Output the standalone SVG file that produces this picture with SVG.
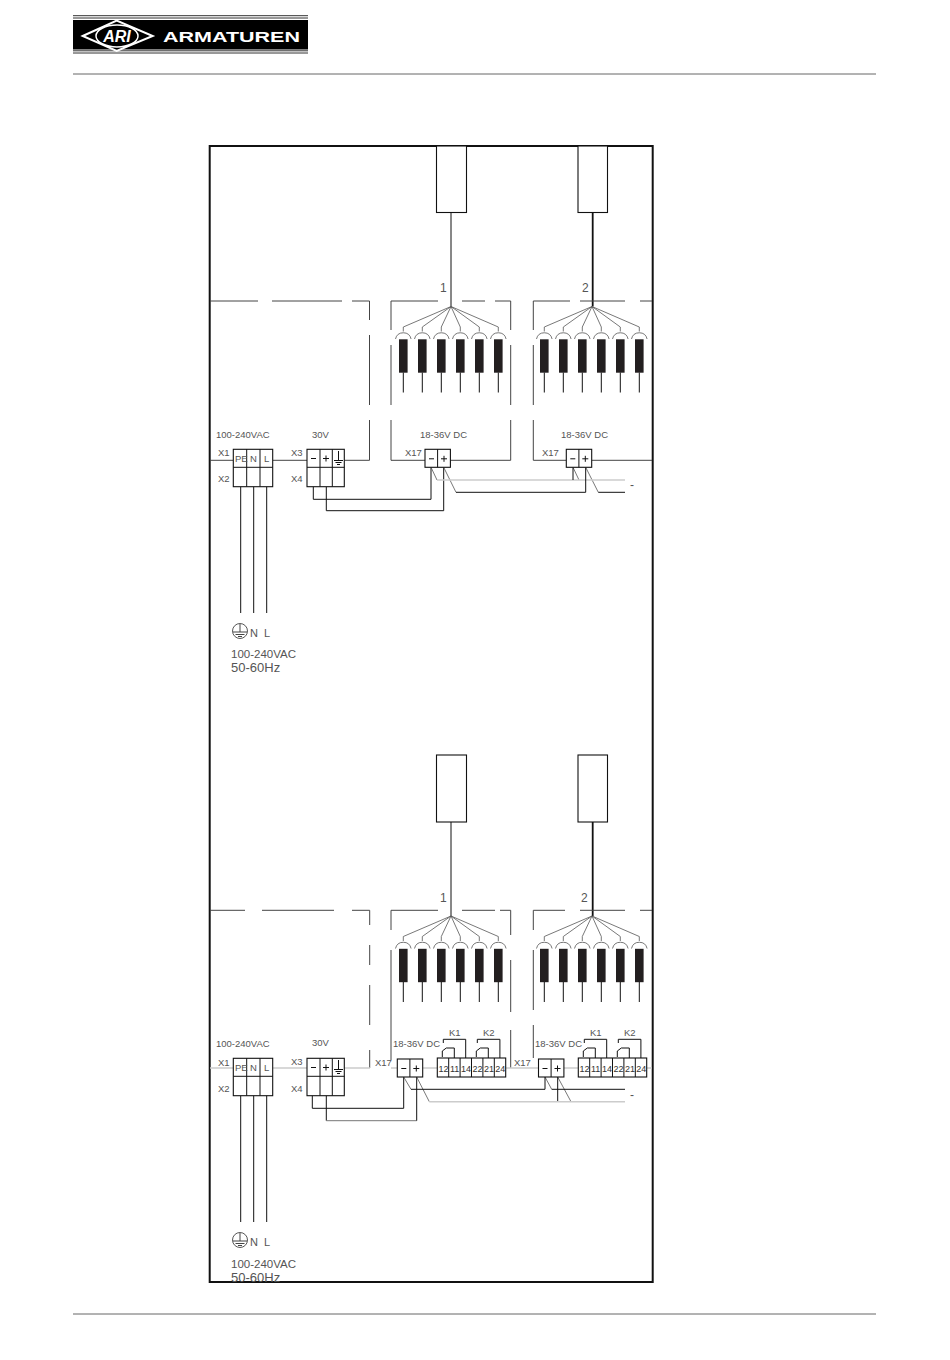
<svg xmlns="http://www.w3.org/2000/svg" xmlns:xlink="http://www.w3.org/1999/xlink" width="950" height="1360" viewBox="0 0 950 1360">
<style>
text{font-family:"Liberation Sans","DejaVu Sans",sans-serif;fill:#555;font-size:9.5px}
.b{font-size:12px}
.r{font-size:9px;fill:#333}
.w{fill:none;stroke:#111;stroke-width:1.1}
.t{fill:none;stroke:#555;stroke-width:.8}
.g{fill:none;stroke:#ccc;stroke-width:1.4}
.d{fill:none;stroke:#444;stroke-width:1}
.k{fill:none;stroke:#111;stroke-width:1}
.box{fill:#fff;stroke:#111;stroke-width:1.1}
</style>
<defs>
<g id="tube"><path class="t" d="M0 20.5V25M-7.8 32.5A8 8 0 0 1 7.8 32.5"/><rect x="-4.3" y="32.8" width="8.6" height="33.4" fill="#231f20"/><path class="k" d="M0 66V86"/></g>
<g id="fan">
<path class="t" d="M0 0L-47.7 20.5M0 0L-28.7 20.5M0 0L-9.7 20.5M0 0L9.3 20.5M0 0L28.3 20.5M0 0L47.3 20.5"/>
<use xlink:href="#tube" x="-47.7"/><use xlink:href="#tube" x="-28.7"/><use xlink:href="#tube" x="-9.7"/><use xlink:href="#tube" x="9.3"/><use xlink:href="#tube" x="28.3"/><use xlink:href="#tube" x="47.3"/>
</g>
<g id="mains">
<rect class="box" x="233.3" y="449.3" width="39.4" height="37.4"/>
<path class="k" d="M233.3 467.3H272.7M246.7 449.3V486.7M260 449.3V486.7"/>
<text x="235" y="462">PE</text><text x="250" y="462">N</text><text x="264" y="462" fill="#222">L</text>
</g>
<g id="psu">
<rect class="box" x="307" y="449.3" width="37.3" height="37.4"/>
<path class="k" d="M307 467.3H344.3M320 449.3V486.7M332.3 449.3V486.7"/>
<path class="k" d="M311 458.5H316M323 458.5H329M326 455.5V461.5M338.5 451V460M334 460.5H343M335.5 462.5H341.5M337 464.5H340"/>
</g>
<g id="dc">
<rect class="box" x="0" y="0" width="25.4" height="18"/>
<path class="k" d="M12.6 0V18M4 9.5H9M16 9.5H22M19 6.5V12.5"/>
</g>
<g id="relay">
<rect class="box" x="0" y="0" width="68.4" height="19"/>
<path class="k" d="M11.4 0V19M22.8 0V19M34.2 0V19M45.6 0V19M57 0V19"/>
<text class="r" x="1.2" y="14">12</text><text class="r" x="12.6" y="14">11</text><text class="r" x="23.8" y="14">14</text><text class="r" x="35.2" y="14">22</text><text class="r" x="46.6" y="14">21</text><text class="r" x="58" y="14">24</text>
<path class="k" d="M28.4 0V-18.7H6V-15M5 -1V-7M5 -7L9 -10H17V0M62.6 0V-18.7H40V-15M39 -1V-7M39 -7L43 -10H51V0"/>
</g>
<g id="earthsym"><circle cx="0" cy="0" r="7.5" fill="none" stroke="#444" stroke-width=".9"/><path class="d" d="M0 -7V1M-7 1H7M-4.5 3.5H4.5M-2 5.5H2"/></g>
</defs>

<g id="header">
<path d="M73 15.7H308M73 18H308M73 50.8H308M73 53H308" stroke="#333" stroke-width="1" fill="none"/>
<rect x="73" y="20" width="235" height="29.500" fill="#000"/>
<path d="M82.700 36L116.700 20.500L152.700 36L116.700 51Z" fill="#000" stroke="#fff" stroke-width="2"/>
<ellipse cx="117" cy="36" rx="21" ry="11" fill="none" stroke="#fff" stroke-width="1.500"/>
<text x="117" y="42" text-anchor="middle" style="font-size:16px;font-weight:bold;font-style:italic;fill:#fff">ARI</text>
<text x="163" y="42" textLength="137" lengthAdjust="spacingAndGlyphs" style="font-size:15px;font-weight:bold;fill:#fff">ARMATUREN</text>
<path d="M73 74H876" stroke="#666" stroke-width="1"/>
</g>
<g id="footer"><path d="M73 1314H876" stroke="#666" stroke-width="1"/></g>

<g id="frame"><rect x="209.700" y="146" width="443" height="1136" fill="none" stroke="#111" stroke-width="2"/></g>

<g id="sensor-a1"><rect class="box" x="436.500" y="146" width="30" height="66.500"/></g>
<g id="sensor-a2"><rect class="box" x="578" y="146" width="29.500" height="66.500"/></g>
<g id="sensor-b1"><rect class="box" x="436.500" y="755" width="30" height="67"/></g>
<g id="sensor-b2"><rect class="box" x="578" y="755" width="29.500" height="67"/></g>

<g id="connectors">
<!-- cable lines -->
<path class="k" d="M451 212.500V306.500M451 822V916"/>
<path fill="none" stroke="#111" stroke-width="1.800" d="M592.700 212.500V306.500M592.700 822V916"/>
<!-- boxes, top -->
<path class="d" d="M210 301H258M272 301H342M352 301H369.500V320M369.500 335V405M369.500 420V460.300H344.300M307 460.300H273M233.300 460.300H210"/>
<path class="d" d="M391 330V301H438M462 301H485M495 301H510.700V330M510.700 345V405M510.700 420V460.300H450.400M425 460.300H391V420M391 405V345"/>
<path class="d" d="M533.300 330V301H570M580 301H625M640 301H652M533.300 345V405M533.300 420V460.300H566.300M591.700 460.300H652"/>
<!-- boxes, bottom -->
<path class="d" d="M210 910.300H245M262 910.300H334M352 910.300H369.700V925M369.700 945V965M369.700 985V1025M369.700 1050V1068"/>
<path class="d" d="M391 930V910.300H438M462 910.300H495M500 910.300H510.700V935M510.700 960V1012M510.700 1030V1068M391 950V1060"/>
<path class="d" d="M533.300 930V910.300H565M580 910.300H625M640 910.300H652M533.300 950V1010M533.300 1025V1058"/>
<path class="g" d="M210 1068H233M273 1068H307M344 1068H370M391 1068H397M423 1068H437M506 1068H538M564 1068H578M647 1068H652"/>
<!-- supply top -->
<path class="k" d="M240.700 486.700V613M253.700 486.700V613M266.700 486.700V613"/>
<path class="k" d="M313.300 486.700V499.300H431V467.300M326.300 486.700V510.700H443.700V467.300"/>
<path class="t" d="M431 467.300L437 480M443.700 467.300L456 492.300M573 467.300L579 480M585.700 467.300L598.300 492.300"/>
<path class="g" d="M437 480H625"/>
<path class="k" d="M456 492.300H585.700V467.300M573 467.300V480M598.300 492.300H625"/>
<!-- supply bottom -->
<path class="k" d="M240.700 1095.300V1222M253.700 1095.300V1222M266.700 1095.300V1222"/>
<path class="k" d="M312.300 1095.300V1108.300H403.700V1077M326.300 1095.300V1120.700"/>
<path d="M326.300 1120.700H416.700" stroke="#777" stroke-width="1" fill="none"/>
<path class="k" d="M416.700 1120.700V1077"/>
<path class="t" d="M403.700 1077L411 1089.300M416.700 1077L429.300 1101.700M545 1077L551.700 1089.300M557.700 1077L571 1101.700"/>
<path class="k" d="M411 1089.300H545V1077M551.700 1089.300H625M557.700 1077V1101.700"/>
<path class="g" d="M429.300 1101.700H625"/>
</g>

<g id="fan-a1"><use xlink:href="#fan" x="451" y="306.500"/></g>
<g id="fan-a2"><use xlink:href="#fan" x="592" y="306.500"/></g>
<g id="fan-b1"><use xlink:href="#fan" x="451" y="916"/></g>
<g id="fan-b2"><use xlink:href="#fan" x="592" y="916"/></g>

<g id="mains-a"><use xlink:href="#mains"/></g>
<g id="psu-a"><use xlink:href="#psu"/></g>
<g id="mains-b"><use xlink:href="#mains" y="609"/></g>
<g id="psu-b"><use xlink:href="#psu" y="609"/></g>
<g id="dc-a1"><use xlink:href="#dc" x="425" y="449.300"/></g>
<g id="dc-a2"><use xlink:href="#dc" x="566.300" y="449.300"/></g>
<g id="dc-b1"><use xlink:href="#dc" x="397.300" y="1059"/></g>
<g id="dc-b2"><use xlink:href="#dc" x="538.500" y="1059"/></g>
<g id="relay-b1"><use xlink:href="#relay" x="437.300" y="1058"/></g>
<g id="relay-b2"><use xlink:href="#relay" x="578.300" y="1058"/></g>

<g id="labels-a">
<text x="216" y="438">100-240VAC</text><text x="312" y="438">30V</text><text x="420" y="438">18-36V  DC</text><text x="561" y="438">18-36V  DC</text>
<text x="218" y="456">X1</text><text x="218" y="482">X2</text><text x="291" y="456">X3</text><text x="291" y="482">X4</text>
<text x="405" y="456">X17</text><text x="542" y="456">X17</text>
<text class="b" x="440" y="292">1</text><text class="b" x="582" y="292">2</text>
<text x="630" y="489" class="b">-</text>
</g>
<g id="labels-b">
<text x="216" y="1047">100-240VAC</text><text x="312" y="1046">30V</text><text x="393" y="1047">18-36V  DC</text><text x="535" y="1047">18-36V  DC</text>
<text x="218" y="1066">X1</text><text x="218" y="1092">X2</text><text x="291" y="1065">X3</text><text x="291" y="1092">X4</text>
<text x="375" y="1066">X17</text><text x="514" y="1066">X17</text>
<text x="449" y="1036">K1</text><text x="483" y="1036">K2</text><text x="590" y="1036">K1</text><text x="624" y="1036">K2</text>
<text class="b" x="440" y="902">1</text><text class="b" x="581" y="902">2</text>
<text x="630" y="1099" class="b">-</text>
</g>
<g id="supply-a">
<use xlink:href="#earthsym" x="240" y="631"/>
<text x="250" y="637" style="font-size:11px">N</text><text x="264" y="637" style="font-size:11px">L</text>
<text x="231" y="658" style="font-size:11.500px">100-240VAC</text><text x="231" y="672" style="font-size:13px">50-60Hz</text>
</g>
<g id="supply-b">
<use xlink:href="#earthsym" x="240" y="1240"/>
<text x="250" y="1246" style="font-size:11px">N</text><text x="264" y="1246" style="font-size:11px">L</text>
<text x="231" y="1268" style="font-size:11.500px">100-240VAC</text><text x="231" y="1282" style="font-size:13px">50-60Hz</text>
</g>
</svg>
